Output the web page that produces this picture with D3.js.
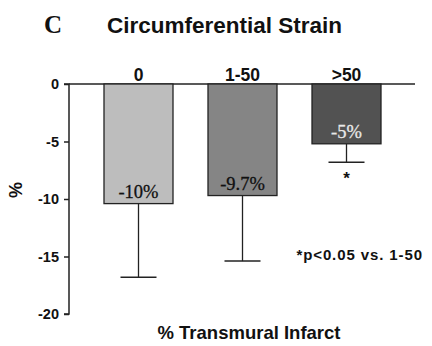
<!DOCTYPE html>
<html><head><meta charset="utf-8">
<script src="https://cdn.jsdelivr.net/npm/d3@7"></script>
<style>body{margin:0;background:#fff}svg{display:block}</style>
</head><body>
<svg id="c" width="432" height="346"></svg>
<script>
const categories = ["0", "1-50", ">50"];
const means = [-10.4, -9.7, -5.2];
const errLow = [-16.8, -15.4, -6.8];
const valueLabels = ["-10%", "-9.7%", "-5%"];
const barColors = ["#bdbdbd", "#858585", "#525252"];
const labelColors = ["#111", "#111", "#e8e8e8"];
const yTicks = [0, -5, -10, -15, -20];

const svg = d3.select("#c");
const y = d3.scaleLinear().domain([0, -20]).range([84, 314]);
const x = d3.scaleBand().domain(categories).range([69, 381 + 35]).paddingInner(35 / 104).paddingOuter(35 / 104);

const sans = "Liberation Sans, Arial, sans-serif";
const serif = "Liberation Serif, Times New Roman, serif";

// title
svg.append("text").attr("x", 44).attr("y", 32.5).attr("font-family", serif).attr("font-weight", "bold").attr("font-size", 25).attr("fill", "#111").text("C");
svg.append("text").attr("x", 107).attr("y", 32.5).attr("font-family", sans).attr("font-weight", "bold").attr("font-size", 22.5).attr("fill", "#111").text("Circumferential Strain");

// y axis
const yAxis = d3.axisLeft(y).tickValues(yTicks).tickSize(5).tickPadding(5).tickFormat(d => String(d));
const ga = svg.append("g").attr("transform", "translate(69,0)").call(yAxis);
ga.select(".domain").attr("stroke", "#222").attr("stroke-width", 1.5).attr("d", "M-5,84H0V314H-5");
ga.selectAll(".tick line").attr("stroke", "#222").attr("stroke-width", 1.5);
ga.selectAll(".tick text").attr("font-family", sans).attr("font-weight", "bold").attr("font-size", 14.5).attr("fill", "#111");

// zero line
svg.append("line").attr("x1", 69).attr("x2", 415).attr("y1", y(0)).attr("y2", y(0)).attr("stroke", "#222").attr("stroke-width", 1.5);

const bw = 69;
const bx = (i) => 104 + i * 104;

// error bars
const g = svg.append("g");
categories.forEach((c, i) => {
  const cx = bx(i) + bw / 2;
  g.append("line").attr("x1", cx).attr("x2", cx).attr("y1", y(means[i])).attr("y2", y(errLow[i])).attr("stroke", "#222").attr("stroke-width", 1.3);
  g.append("line").attr("x1", cx - 18).attr("x2", cx + 18).attr("y1", y(errLow[i])).attr("y2", y(errLow[i])).attr("stroke", "#222").attr("stroke-width", 1.5);
});

// bars
svg.selectAll("rect.bar").data(means).enter().append("rect")
  .attr("x", (d, i) => bx(i)).attr("width", bw)
  .attr("y", y(0)).attr("height", d => y(d) - y(0))
  .attr("fill", (d, i) => barColors[i]).attr("stroke", "#222").attr("stroke-width", 1.3);

// category labels
svg.selectAll("text.cat").data(categories).enter().append("text")
  .attr("x", (d, i) => bx(i) + bw / 2).attr("y", 81).attr("text-anchor", "middle")
  .attr("font-family", sans).attr("font-weight", "bold").attr("font-size", 17.5).attr("fill", "#111").text(d => d);

// value labels
svg.selectAll("text.val").data(valueLabels).enter().append("text")
  .attr("x", (d, i) => bx(i) + bw / 2).attr("y", (d, i) => y(means[i]) - 6).attr("text-anchor", "middle")
  .attr("font-family", serif).attr("font-size", 18.5).attr("stroke", (d, i) => labelColors[i]).attr("stroke-width", 0.3)
  .attr("fill", (d, i) => labelColors[i]).text(d => d);

// star
svg.append("text").attr("x", bx(2) + bw / 2).attr("y", y(errLow[2]) + 22).attr("text-anchor", "middle")
  .attr("font-family", sans).attr("font-weight", "bold").attr("font-size", 17).attr("fill", "#111").text("*");

svg.append("text").attr("x", 423).attr("y", 260).attr("text-anchor", "end")
  .attr("font-family", sans).attr("font-weight", "bold").attr("font-size", 15).attr("letter-spacing", 0.9).attr("fill", "#111").text("*p<0.05 vs. 1-50");

// axis titles
svg.append("text").attr("x", 249).attr("y", 339).attr("text-anchor", "middle")
  .attr("font-family", sans).attr("font-weight", "bold").attr("font-size", 18.5).attr("fill", "#111").text("% Transmural Infarct");
svg.append("text").attr("transform", "translate(22,190) rotate(-90)").attr("text-anchor", "middle")
  .attr("font-family", sans).attr("font-weight", "bold").attr("font-size", 18).attr("fill", "#111").text("%");
</script>
</body></html>
